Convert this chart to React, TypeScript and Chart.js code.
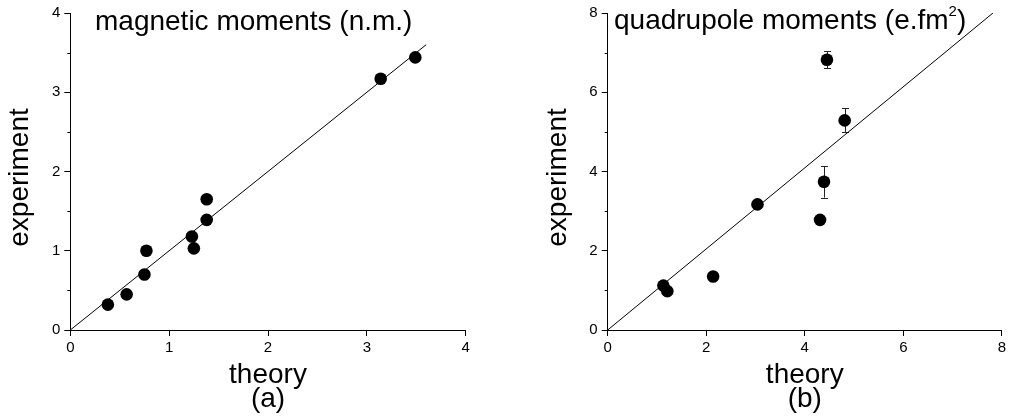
import React, { useEffect, useRef } from 'react';
import { Chart, registerables } from 'chart.js';

Chart.register(...registerables);

// ---- Panel (a): magnetic moments ----
const magTheory = [0.38, 0.57, 0.75, 0.77, 1.23, 1.25, 1.38, 1.38, 3.14, 3.49];
const magExperiment = [0.32, 0.45, 0.70, 1.00, 1.18, 1.03, 1.65, 1.39, 3.17, 3.44];
const magLineX = [0, 3.6];
const magLineY = [0, 3.6];
const magTicks = [0, 1, 2, 3, 4];
const magMinorY = [0.5, 1.5, 2.5, 3.5];

// ---- Panel (b): quadrupole moments ----
const quadTheory = [1.13, 1.21, 2.14, 3.04, 4.31, 4.39, 4.45, 4.81];
const quadExperiment = [1.12, 0.98, 1.35, 3.17, 2.78, 3.74, 6.82, 5.29];
const quadError = [0, 0, 0, 0, 0, 0.4, 0.22, 0.3];
const quadLineX = [0, 7.82];
const quadLineY = [0, 8];
const quadTicks = [0, 2, 4, 6, 8];
const quadMinorY = [1, 3, 5, 7];

const FONT = "'Liberation Sans', Arial, sans-serif";

const extrasPlugin = {
  id: 'extras',
  beforeDatasetsDraw(chart: any, _args: any, opts: any) {
    const errors: number[] = opts.errors || [];
    const xs: number[] = opts.errX || [];
    const ys: number[] = opts.errY || [];
    const xScale = chart.scales.x;
    const yScale = chart.scales.y;
    const ctx = chart.ctx;
    ctx.save();
    ctx.strokeStyle = '#222';
    ctx.lineWidth = 1;
    errors.forEach((e, i) => {
      if (!e) return;
      const px = Math.round(xScale.getPixelForValue(xs[i])) + 0.5;
      const top = yScale.getPixelForValue(ys[i] + e);
      const bot = yScale.getPixelForValue(ys[i] - e);
      ctx.beginPath();
      ctx.moveTo(px, top);
      ctx.lineTo(px, bot);
      ctx.moveTo(px - 3.5, Math.round(top) + 0.5);
      ctx.lineTo(px + 3.5, Math.round(top) + 0.5);
      ctx.moveTo(px - 3.5, Math.round(bot) + 0.5);
      ctx.lineTo(px + 3.5, Math.round(bot) + 0.5);
      ctx.stroke();
    });
    ctx.restore();
  },
  afterDraw(chart: any, _args: any, opts: any) {
    const minor: number[] = opts.minorY || [];
    const yScale = chart.scales.y;
    const area = chart.chartArea;
    const ctx = chart.ctx;
    ctx.save();
    ctx.strokeStyle = '#000';
    ctx.lineWidth = 1;
    minor.forEach((v) => {
      const py = Math.round(yScale.getPixelForValue(v)) + 0.5;
      ctx.beginPath();
      ctx.moveTo(area.left - 3, py);
      ctx.lineTo(area.left, py);
      ctx.stroke();
    });
    // y-axis title
    if (opts.yTitle) {
      ctx.translate(opts.yTitleX, (area.top + area.bottom) / 2 + 6);
      ctx.rotate(-Math.PI / 2);
      ctx.fillStyle = '#000';
      ctx.font = `28px ${FONT}`;
      ctx.textAlign = 'center';
      ctx.textBaseline = 'middle';
      ctx.fillText(opts.yTitle, 0, 0);
    }
    ctx.restore();
  },
};

interface PanelProps {
  xs: number[];
  ys: number[];
  lineX: number[];
  lineY: number[];
  ticks: number[];
  minorY: number[];
  errors: number[];
  label: string;
  width: number;
  yAxisWidth: number;
  padRight: number;
  yTitleX: number;
}

function Panel(p: PanelProps) {
  const ref = useRef<HTMLCanvasElement | null>(null);
  useEffect(() => {
    if (!ref.current) return;
    const max = p.ticks[p.ticks.length - 1];
    const step = p.ticks[1] - p.ticks[0];
    const tickFont = { family: FONT, size: 15 };
    const chart = new Chart(ref.current, {
      type: 'scatter',
      data: {
        datasets: [
          {
            label: 'identity',
            data: p.lineX.map((x, i) => ({ x, y: p.lineY[i] })),
            showLine: true,
            borderColor: '#000',
            borderWidth: 1,
            pointRadius: 0,
            fill: false,
          },
          {
            label: 'data',
            data: p.xs.map((x, i) => ({ x, y: p.ys[i] })),
            backgroundColor: '#000',
            borderColor: '#000',
            borderWidth: 0,
            pointRadius: 6.3,
          },
        ],
      },
      options: {
        responsive: false,
        animation: false,
        devicePixelRatio: 1,
        layout: { padding: { left: 0, right: p.padRight, top: 10, bottom: 0 } },
        plugins: {
          legend: { display: false },
          tooltip: { enabled: false },
          extras: { minorY: p.minorY, errors: p.errors, errX: p.xs, errY: p.ys, yTitle: 'experiment', yTitleX: p.yTitleX },
        } as any,
        scales: {
          x: {
            type: 'linear',
            min: 0,
            max,
            afterFit: (s: any) => { s.height = 89; },
            ticks: { stepSize: step, color: '#000', font: tickFont, padding: 3, maxRotation: 0 },
            grid: { drawOnChartArea: false, drawTicks: true, tickLength: 6, color: '#000' },
            border: { display: true, color: '#000', width: 1 },
            title: {
              display: true,
              text: ['theory', p.label],
              color: '#000',
              font: { family: FONT, size: 28, lineHeight: 0.85 },
              padding: { top: 0, bottom: 8 },
            },
          },
          y: {
            type: 'linear',
            min: 0,
            max,
            afterFit: (s: any) => { s.width = p.yAxisWidth; },
            ticks: { stepSize: step, color: '#000', font: tickFont, padding: 4 },
            grid: { drawOnChartArea: false, drawTicks: true, tickLength: 6, color: '#000' },
            border: { display: true, color: '#000', width: 1 },
            title: { display: false },
          },
        },
      },
      plugins: [extrasPlugin as any],
    });
    return () => chart.destroy();
  }, []);
  return <canvas ref={ref} width={p.width} height={419} style={{ width: p.width, height: 419, display: 'block' }} />;
}

export default function App() {
  const titleStyle: React.CSSProperties = {
    position: 'absolute',
    fontFamily: FONT,
    fontSize: 28,
    lineHeight: '28px',
    color: '#000',
    whiteSpace: 'nowrap',
  };
  return (
    <div style={{ position: 'fixed', left: 0, top: 0, width: 1009, height: 419, background: '#fff', overflow: 'hidden' }}>
      <div style={{ position: 'absolute', left: 0, top: 0 }}>
        <Panel
          xs={magTheory}
          ys={magExperiment}
          lineX={magLineX}
          lineY={magLineY}
          ticks={magTicks}
          minorY={magMinorY}
          errors={[]}
          label="(a)"
          width={520}
          yAxisWidth={70.3}
          padRight={54.3}
          yTitleX={20}
        />
      </div>
      <div style={{ position: 'absolute', left: 520, top: 0 }}>
        <Panel
          xs={quadTheory}
          ys={quadExperiment}
          lineX={quadLineX}
          lineY={quadLineY}
          ticks={quadTicks}
          minorY={quadMinorY}
          errors={quadError}
          label="(b)"
          width={489}
          yAxisWidth={87.7}
          padRight={5.7}
          yTitleX={38}
        />
      </div>
      <div style={{ ...titleStyle, left: 95, top: 7 }}>magnetic moments (n.m.)</div>
      <div style={{ ...titleStyle, left: 614, top: 6 }}>
        quadrupole moments (e.fm<sup style={{ fontSize: 15, verticalAlign: 13, lineHeight: 0 }}>2</sup>)
      </div>
    </div>
  );
}
